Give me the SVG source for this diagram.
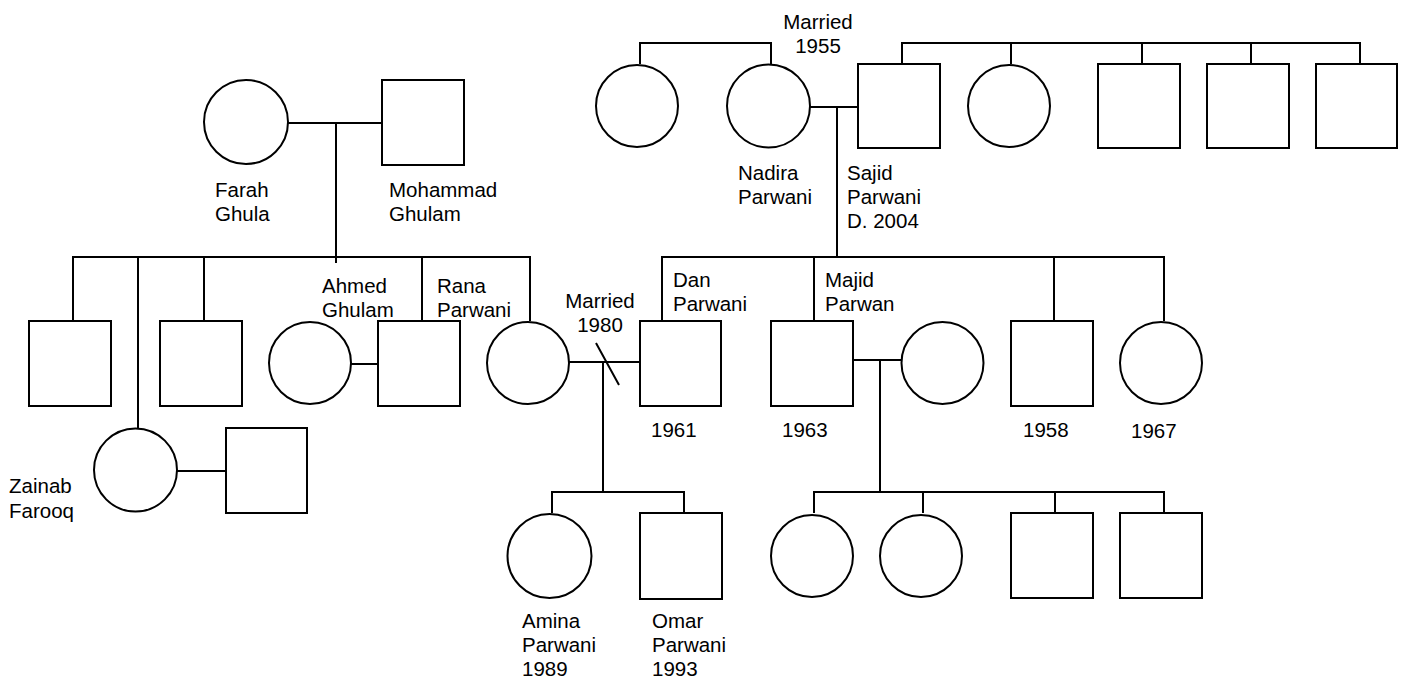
<svg xmlns="http://www.w3.org/2000/svg" width="1406" height="687" viewBox="0 0 1406 687">
<style>
.n{fill:#fff;stroke:#000;stroke-width:2}
.c{fill:none;stroke:#000;stroke-width:2}
text{font-family:"Liberation Sans",Arial,sans-serif;font-size:20.5px;fill:#000}
</style>
<rect width="1406" height="687" fill="#fff"/>
<g id="connectors" class="c">
<path d="M640,64V43H771V64"/>
<path d="M902,64V43H1360V64M1011,43V64M1142,43V64M1251,43V64"/>
<path d="M810,107H858M837,107V257"/>
<path d="M662,321V257H1164V321M814,257V321M1054,257V321"/>
<path d="M288,123H382M336,123V263"/>
<path d="M73,321V257H530V321M138,257V428M204,257V321M422,257V321"/>
<path d="M351,364H378"/>
<path d="M176,471H226"/>
<path d="M569,362H640M603,362V492M596,343L619,385"/>
<path d="M552,513V492H684V513"/>
<path d="M853,360H902M880,360V492"/>
<path d="M814,513V492H1164V513M923,492V513M1055,492V513"/>
</g>
<g id="n1"><circle class="n" cx="637" cy="106" r="41"/></g>
<g id="nadira"><circle class="n" cx="768.5" cy="106" r="41.5"/><text x="738" y="180">Nadira</text><text x="738" y="204">Parwani</text></g>
<g id="sajid"><rect class="n" x="858" y="64" width="82" height="84"/><text x="847" y="180">Sajid</text><text x="847" y="204">Parwani</text><text x="847" y="228">D. 2004</text></g>
<g id="married1955"><text x="818" y="29" text-anchor="middle">Married</text><text x="818" y="53" text-anchor="middle">1955</text></g>
<g id="n2"><circle class="n" cx="1009" cy="106" r="41"/></g>
<g id="n3"><rect class="n" x="1098" y="64" width="82" height="84"/></g>
<g id="n4"><rect class="n" x="1207" y="64" width="82" height="84"/></g>
<g id="n5"><rect class="n" x="1316" y="64" width="81" height="84"/></g>
<g id="farah"><circle class="n" cx="246" cy="122" r="42"/><text x="215" y="197">Farah</text><text x="215" y="221">Ghula</text></g>
<g id="mohammad"><rect class="n" x="382" y="80" width="82" height="85"/><text x="389" y="197">Mohammad</text><text x="389" y="221">Ghulam</text></g>
<g id="n6"><rect class="n" x="29" y="321" width="82" height="85"/></g>
<g id="n7"><rect class="n" x="160" y="321" width="82" height="85"/></g>
<g id="n8"><circle class="n" cx="310" cy="363" r="41"/></g>
<g id="ahmed"><rect class="n" x="378" y="321" width="82" height="85"/><text x="322" y="293">Ahmed</text><text x="322" y="317">Ghulam</text></g>
<g id="rana"><circle class="n" cx="528" cy="363" r="41"/><text x="437" y="293">Rana</text><text x="437" y="317">Parwani</text></g>
<g id="married1980"><text x="600" y="308" text-anchor="middle">Married</text><text x="600" y="332" text-anchor="middle">1980</text></g>
<g id="dan"><rect class="n" x="640" y="321" width="81" height="85"/><text x="673" y="287">Dan</text><text x="673" y="311">Parwani</text><text x="651" y="437">1961</text></g>
<g id="majid"><rect class="n" x="771" y="321" width="82" height="85"/><text x="825" y="287">Majid</text><text x="825" y="311">Parwan</text><text x="782" y="437">1963</text></g>
<g id="n9"><circle class="n" cx="942.5" cy="363" r="41"/></g>
<g id="n1958"><rect class="n" x="1011" y="321" width="82" height="85"/><text x="1023" y="437">1958</text></g>
<g id="n1967"><circle class="n" cx="1161" cy="363" r="41"/><text x="1131" y="438">1967</text></g>
<g id="zainab"><circle class="n" cx="135.5" cy="470" r="41.5"/><text x="9" y="493">Zainab</text><text x="9" y="518">Farooq</text></g>
<g id="n10"><rect class="n" x="226" y="428" width="81" height="85"/></g>
<g id="amina"><circle class="n" cx="549.5" cy="556" r="42"/><text x="522" y="628">Amina</text><text x="522" y="652">Parwani</text><text x="522" y="676">1989</text></g>
<g id="omar"><rect class="n" x="640" y="513" width="82" height="86"/><text x="652" y="628">Omar</text><text x="652" y="652">Parwani</text><text x="652" y="676">1993</text></g>
<g id="n11"><circle class="n" cx="812" cy="556" r="41"/></g>
<g id="n12"><circle class="n" cx="921" cy="556" r="41"/></g>
<g id="n13"><rect class="n" x="1011" y="513" width="82" height="85"/></g>
<g id="n14"><rect class="n" x="1120" y="513" width="82" height="85"/></g>
</svg>
